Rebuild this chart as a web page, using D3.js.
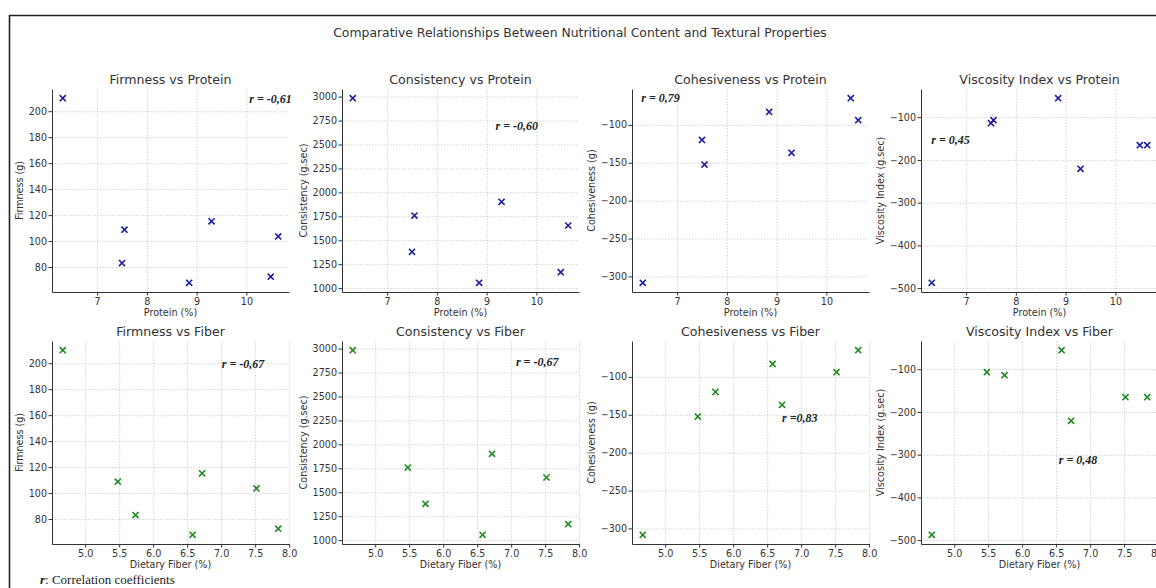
<!DOCTYPE html>
<html>
  <head>
  <meta charset="utf-8">
  <script src="https://cdn.jsdelivr.net/npm/d3@7"></script>
 </head>
  <body style="margin:0;background:#fff">
    <div id="chart"></div>
<style>
text { font-family: "DejaVu Sans", sans-serif; fill: #333; }
.tick text { font-size: 9.6px; fill: #333; }
.axis path, .axis line { stroke: #333; stroke-width: 1; }
.grid line { stroke: #c8c8c8; stroke-width: 0.8; stroke-dasharray: 1.5,1.5; }
.grid path { stroke: none; }
.title { font-size: 12.6px; }
.label { font-size: 9.6px; }
.rlab { font-family: "Liberation Serif", serif; font-style: italic; font-weight: bold; font-size: 12px; fill: #222; }
</style>

    <script type="text/javascript">

// 7 samples
var protein      = [6.31, 7.50, 7.55, 8.85, 9.30, 10.49, 10.64];
var fiber        = [4.67, 5.74, 5.48, 6.58, 6.72, 7.84, 7.52];
var firmness     = [210.0, 83.1, 108.8, 67.9, 115.2, 72.6, 103.6];
var consistency  = [2983, 1379, 1758, 1056, 1901, 1167, 1654];
var cohesiveness = [-308.4, -119.8, -152.3, -82.9, -136.9, -64.8, -93.8];
var viscosity    = [-487.5, -114, -107, -55.6, -220.9, -165.5, -165.5];

var proteinTicks = [7, 8, 9, 10];
var fiberTicks = [5.0, 5.5, 6.0, 6.5, 7.0, 7.5, 8.0];
var firmnessTicks = [80, 100, 120, 140, 160, 180, 200];
var consistencyTicks = [1000, 1250, 1500, 1750, 2000, 2250, 2500, 2750, 3000];
var cohesivenessTicks = [-300, -250, -200, -150, -100];
var viscosityTicks = [-500, -400, -300, -200, -100];

var rProtein = ["r = -0,61", "r = -0,60", "r = 0,79", "r = 0,45"];
var rFiber   = ["r = -0,67", "r = -0,67", "r =0,83", "r = 0,48"];
// where each r label sits, in data units of its panel
var rProteinAt = [[10.06, 206.5], [9.18, 2652], [6.28, -69.7], [6.30, -162.5]];
var rFiberAt   = [[7.01, 196.4], [7.07, 2817], [6.72, -159.7], [6.54, -321.5]];

var w = 1156, h = 588;

var svg = d3.select("#chart").append("svg")
    .attr("width", w)
    .attr("height", h);

// frame
svg.append("path")
    .attr("d", "M9.5," + (h + 5) + "V15.5H" + (w + 5))
    .style("fill", "none")
    .style("stroke", "#222")
    .style("stroke-width", 1.6);

svg.append("text")
    .attr("x", 580).attr("y", 37)
    .attr("text-anchor", "middle")
    .style("font-size", "12.4px")
    .text("Comparative Relationships Between Nutritional Content and Textural Properties");

var measures = [
  {name: "Firmness", label: "Firmness (g)", values: firmness, ticks: firmnessTicks, fmt: d3.format("d")},
  {name: "Consistency", label: "Consistency (g.sec)", values: consistency, ticks: consistencyTicks, fmt: d3.format("d")},
  {name: "Cohesiveness", label: "Cohesiveness (g)", values: cohesiveness, ticks: cohesivenessTicks, fmt: d3.format("d")},
  {name: "Viscosity Index", label: "Viscosity Index (g.sec)", values: viscosity, ticks: viscosityTicks, fmt: d3.format("d")}
];

var rows = [
  {name: "Protein", label: "Protein (%)", values: protein, ticks: proteinTicks, fmt: d3.format("d"),
   color: "#1c1ca0", top: 89, r: rProtein, rAt: rProteinAt},
  {name: "Fiber", label: "Dietary Fiber (%)", values: fiber, ticks: fiberTicks, fmt: d3.format(".1f"),
   color: "#1f8a1f", top: 341, r: rFiber, rAt: rFiberAt}
];

var lefts = [52, 342, 632, 921],
    pw = 237,
    ph = 203;

function padded(v) {
  var e = d3.extent(v), m = (e[1] - e[0]) * 0.05;
  return [e[0] - m, e[1] + m];
}

var marker = d3.symbol().type(d3.symbolX).size(26);

rows.forEach(function(row) {
  measures.forEach(function(ms, j) {
    var g = svg.append("g")
        .attr("transform", "translate(" + lefts[j] + "," + row.top + ")");

    var x = d3.scaleLinear().domain(padded(row.values)).range([0, pw]);
    var y = d3.scaleLinear().domain(padded(ms.values)).range([ph, 0]);

    g.append("g").attr("class", "grid")
        .attr("transform", "translate(0," + ph + ")")
        .call(d3.axisBottom(x).tickValues(row.ticks).tickSize(-ph).tickFormat(""));
    g.append("g").attr("class", "grid")
        .call(d3.axisLeft(y).tickValues(ms.ticks).tickSize(-pw).tickFormat(""));

    var xa = g.append("g").attr("class", "axis")
        .attr("transform", "translate(0," + ph + ")")
        .call(d3.axisBottom(x).tickValues(row.ticks).tickFormat(row.fmt).tickSize(3.5).tickSizeOuter(0).tickPadding(2.5));
    var ya = g.append("g").attr("class", "axis")
        .call(d3.axisLeft(y).tickValues(ms.ticks).tickFormat(ms.fmt).tickSize(3.5).tickSizeOuter(0).tickPadding(1.5));

    g.append("text").attr("class", "title")
        .attr("x", pw / 2).attr("y", -5)
        .attr("text-anchor", "middle")
        .text(ms.name + " vs " + row.name);

    g.append("text").attr("class", "label")
        .attr("x", pw / 2).attr("y", ph + 24)
        .attr("text-anchor", "middle")
        .text(row.label);

    var bb = ya.node().getBBox();
    g.append("text").attr("class", "label")
        .attr("transform", "translate(" + (bb.x - 5.5) + "," + (ph / 2) + ") rotate(-90)")
        .attr("text-anchor", "middle")
        .text(ms.label);

    g.selectAll("path.pt")
        .data(row.values.map(function(v, i) { return [v, ms.values[i]]; }))
      .enter().append("path")
        .attr("class", "pt")
        .attr("transform", function(d) { return "translate(" + x(d[0]) + "," + y(d[1]) + ")"; })
        .attr("d", marker)
        .style("fill", "none")
        .style("stroke", row.color)
        .style("stroke-width", 1.6);

    g.append("text").attr("class", "rlab")
        .attr("x", x(row.rAt[j][0]))
        .attr("y", y(row.rAt[j][1]))
        .text(row.r[j]);
  });
});

var foot = svg.append("text")
    .attr("x", 40).attr("y", 584)
    .style("font-family", "Liberation Serif, serif")
    .style("font-size", "13px")
    .style("fill", "#222");
foot.append("tspan").style("font-style", "italic").style("font-weight", "bold").text("r");
foot.append("tspan").text(": Correlation coefficients");

    </script>
  </body>
</html>
